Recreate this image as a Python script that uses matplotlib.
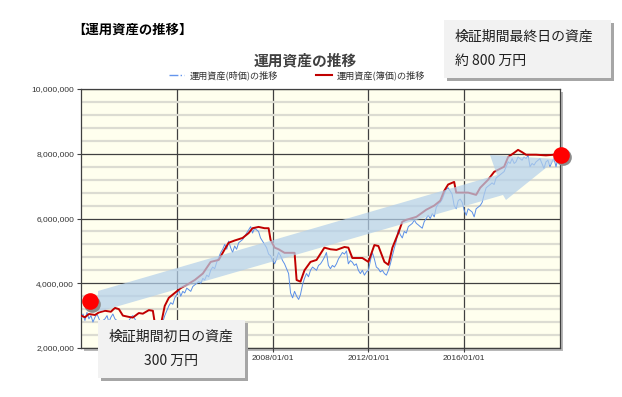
import numpy as np
import pandas as pd
import matplotlib
matplotlib.use('Agg')
import matplotlib.pyplot as plt
from matplotlib.lines import Line2D
from matplotlib.patches import Rectangle, Polygon
from matplotlib.ticker import FuncFormatter, MultipleLocator
from matplotlib.transforms import offset_copy

plt.rcParams['font.family'] = ['Noto Sans CJK JP', 'DejaVu Sans']

# --- data (values in million yen) ---
# book value (簿価) breakpoints
red_dates = ['2000-01', '2000-03', '2000-05', '2000-08', '2000-10', '2001-01', '2001-04', '2001-06',
             '2001-08', '2001-10', '2002-01', '2002-03', '2002-06', '2002-08', '2002-11', '2003-01',
             '2003-02', '2003-04', '2003-05', '2003-07', '2003-09', '2003-12', '2004-03', '2004-06',
             '2004-10', '2005-02', '2005-06', '2005-10', '2006-01', '2006-03', '2006-06', '2006-10',
             '2007-01', '2007-03', '2007-06', '2007-09', '2007-11', '2007-12', '2008-02', '2008-04',
             '2008-07', '2008-12', '2009-01', '2009-03', '2009-05', '2009-08', '2009-11', '2010-03',
             '2010-06', '2010-09', '2011-01', '2011-03', '2011-05', '2011-10', '2012-01', '2012-04',
             '2012-06', '2012-09', '2012-11', '2013-01', '2013-04', '2013-06', '2013-08', '2014-01',
             '2014-06', '2014-10', '2015-01', '2015-03', '2015-05', '2015-08', '2015-09', '2016-03',
             '2016-07', '2016-09', '2017-01', '2017-04', '2017-09', '2017-11', '2018-02', '2018-04',
             '2018-06', '2018-08', '2019-01', '2019-06', '2019-12']
red_values = [3.00, 2.95, 3.05, 3.02, 3.10, 3.15, 3.12, 3.24,
              3.20, 3.00, 2.96, 2.94, 3.08, 3.06, 3.17, 3.15,
              2.75, 2.55, 2.70, 3.30, 3.55, 3.70, 3.85, 3.95,
              4.10, 4.30, 4.66, 4.72, 5.05, 5.25, 5.32, 5.40,
              5.55, 5.70, 5.74, 5.70, 5.70, 5.34, 5.10, 5.05,
              4.94, 4.94, 4.10, 4.05, 4.40, 4.66, 4.72, 5.10,
              5.05, 5.03, 5.12, 5.10, 4.78, 4.78, 4.66, 5.18,
              5.15, 4.66, 4.57, 5.10, 5.55, 5.90, 5.96, 6.05,
              6.27, 6.40, 6.55, 6.85, 7.05, 7.13, 6.80, 6.80,
              6.73, 6.95, 7.20, 7.44, 7.60, 7.90, 8.03, 8.12,
              8.05, 7.97, 7.97, 7.95, 7.98]

# market value (時価), monthly from 2000-01
blue_start = '2000-01'
blue_values = [
    2.95, 3.05, 2.85, 3.10, 2.90, 3.00, 2.80, 2.95, 3.05, 2.90, 2.75, 2.85,
    2.90, 3.00, 2.80, 2.95, 3.05, 2.90, 2.85, 2.70, 2.55, 2.75, 2.85, 2.80,
    2.85, 2.95, 3.00, 2.90, 2.80, 2.65, 2.60, 2.70, 2.55, 2.45, 2.50, 2.40,
    2.35, 2.30, 2.25, 2.40, 2.60, 2.80, 3.00, 3.15, 3.30, 3.40, 3.35, 3.55,
    3.65, 3.80, 3.60, 3.75, 3.70, 3.85, 3.80, 3.75, 3.90, 3.95, 4.00, 4.05,
    4.00, 4.15, 4.10, 4.25, 4.20, 4.40, 4.50, 4.45, 4.65, 4.80, 4.95, 5.05,
    5.20, 5.05, 5.30, 5.10, 4.95, 5.15, 5.05, 5.25, 5.30, 5.35, 5.45, 5.55,
    5.65, 5.75, 5.55, 5.70, 5.65, 5.60, 5.40, 5.30, 5.20, 5.10, 4.90, 4.85,
    4.70, 4.60, 4.75, 4.95, 4.85, 4.70, 4.60, 4.45, 4.30, 3.70, 3.55, 3.75,
    3.60, 3.50, 3.65, 3.95, 4.15, 4.30, 4.20, 4.40, 4.50, 4.45, 4.40, 4.55,
    4.60, 4.70, 4.80, 4.95, 4.55, 4.45, 4.55, 4.50, 4.60, 4.75, 4.85, 4.95,
    4.90, 5.00, 4.60, 4.70, 4.65, 4.55, 4.60, 4.40, 4.30, 4.40, 4.25, 4.35,
    4.40, 4.70, 4.95, 4.75, 4.50, 4.45, 4.35, 4.40, 4.30, 4.25, 4.40, 4.60,
    4.85, 5.10, 5.30, 5.65, 5.50, 5.40, 5.60, 5.55, 5.75, 5.80, 5.85, 5.95,
    5.85, 5.80, 5.75, 5.70, 5.90, 6.00, 6.10, 6.00, 6.15, 6.05, 6.35, 6.45,
    6.50, 6.60, 6.75, 6.90, 6.95, 6.85, 6.75, 6.40, 6.30, 6.55, 6.60, 6.50,
    6.25, 6.10, 6.30, 6.25, 6.20, 6.05, 6.30, 6.35, 6.40, 6.50, 6.75, 6.95,
    7.00, 7.05, 7.10, 7.05, 7.25, 7.30, 7.35, 7.40, 7.45, 7.60, 7.75, 7.70,
    7.85, 7.70, 7.75, 7.90, 7.85, 7.80, 7.90, 7.85, 7.95, 7.60, 7.70, 7.65,
    7.75, 7.80, 7.85, 7.70, 7.55, 7.75, 7.80, 7.60, 7.75, 7.85, 7.60, 7.85]

marker_dates = ['2000-05-15', '2020-01-10']
marker_values = [3.45, 7.97]

x_ticks = ['2004-01-01', '2008-01-01', '2012-01-01', '2016-01-01']
# the 2004 label sits under the note box in the original, so it is left blank
x_tick_labels = ['', '2008/01/01', '2012/01/01', '2016/01/01']
legend_labels = ['運用資産(時価)の推移', '運用資産(簿価)の推移']
title = '運用資産の推移'
header = '【運用資産の推移】'
box_end = '検証期間最終日の資産\n約 800 万円'
box_start = '検証期間初日の資産\n300 万円'

W, H = 622, 397


def fx(px):
    return px / W


def fy(py):
    return 1 - py / H


fig = plt.figure(figsize=(W / 100, H / 100), dpi=100)
fig.patch.set_facecolor('white')

# axes area in pixels: x 81..560, y 89..348
ax = fig.add_axes([fx(81), fy(348), (560 - 81) / W, (348 - 89) / H])
ax.set_facecolor('#FFFFEE')

# frame shadow
fig.patches.append(Rectangle((fx(84), fy(351)), (560 - 81) / W, (348 - 89) / H,
                             transform=fig.transFigure, facecolor='#B8B8B8',
                             edgecolor='none', zorder=-1))

red_x = pd.to_datetime(red_dates)
blue_x = pd.date_range(blue_start, periods=len(blue_values), freq='MS')

ax.plot(blue_x, np.array(blue_values) * 1e6, color='#5B8FE8', lw=0.7, zorder=3)
ax.plot(red_x, np.array(red_values) * 1e6, color='#C00000', lw=1.4, zorder=4)

ax.set_xlim(pd.Timestamp('2000-01-01'), pd.Timestamp('2020-01-01'))
ax.set_ylim(2e6, 10e6)

ax.set_xticks(pd.to_datetime(x_ticks))
ax.set_xticklabels(x_tick_labels)
ax.yaxis.set_major_locator(MultipleLocator(2e6))
ax.yaxis.set_minor_locator(MultipleLocator(4e5))
ax.yaxis.set_major_formatter(FuncFormatter(lambda v, p: '{:,.0f}'.format(v)))

ax.grid(which='minor', axis='y', color='#DCDCD2', lw=1.6, zorder=1)
ax.grid(which='major', axis='both', color='#404040', lw=0.9, zorder=2)
ax.set_axisbelow(True)
ax.tick_params(which='minor', length=0)
ax.tick_params(which='major', length=3, width=0.8, color='#404040',
               labelsize=6, labelcolor='#333333', pad=2)
for lab in ax.get_xticklabels() + ax.get_yticklabels():
    lab.set_family(['Liberation Sans', 'DejaVu Sans'])
for s in ax.spines.values():
    s.set_color('#404040')
    s.set_linewidth(0.9)

# big translucent arrow (pixel coordinates -> figure fraction)
arrow_px = [(98, 291), (497, 175), (490, 155), (557, 159), (506, 200), (503, 195), (98, 312)]
arrow = Polygon([(fx(a), fy(b)) for a, b in arrow_px], closed=True, transform=fig.transFigure,
                facecolor='#B4D0EA', edgecolor='none', alpha=0.72, zorder=5, clip_on=False)
ax.add_patch(arrow)

# red markers at start and end, with drop shadow
mk_x = pd.to_datetime(marker_dates)
mk_y = np.array(marker_values) * 1e6
ax.plot(mk_x, mk_y, 'o', ms=12, color='#8C8C8C', mec='none', clip_on=False, zorder=9,
        transform=offset_copy(ax.transData, fig=fig, x=2, y=-2.5, units='dots'))
ax.plot(mk_x, mk_y, 'o', ms=12, color='#FF0000', mec='none', clip_on=False, zorder=10)

# legend
handles = [Line2D([], [], color='#6495ED', lw=1, ls='-.'),
           Line2D([], [], color='#C00000', lw=1.5)]
fig.legend(handles, legend_labels, loc='center', bbox_to_anchor=(fx(297), fy(75)), ncol=2,
           frameon=False, fontsize=6.6, handlelength=1.7, handletextpad=0.55,
           columnspacing=4.2, labelcolor='#333333')

# titles
fig.text(fx(305), fy(60), title, ha='center', va='center', fontsize=10.6,
         fontweight='bold', color='#404040')
fig.text(fx(72), fy(30), header, ha='left', va='center', fontsize=9.6,
         fontweight='bold', color='black')


def note_box(x0, y0, x1, y1, text, ha, tx):
    shadow = Rectangle((fx(x0 + 3), fy(y1 + 3)), (x1 - x0) / W, (y1 - y0) / H,
                       transform=fig.transFigure, facecolor='#A6A6A6', edgecolor='none', zorder=20)
    box = Rectangle((fx(x0), fy(y1)), (x1 - x0) / W, (y1 - y0) / H,
                    transform=fig.transFigure, facecolor='#F2F2F2', edgecolor='none', zorder=21)
    fig.patches.extend([shadow, box])
    fig.text(fx(tx), fy((y0 + y1) / 2), text, ha=ha, va='center', fontsize=10,
             color='#202020', linespacing=1.9, zorder=22, multialignment=ha)


note_box(444, 20, 611, 78, box_end, 'left', 455)
note_box(98, 320, 245, 378, box_start, 'center', 171)

fig.savefig('out.png', dpi=100)
